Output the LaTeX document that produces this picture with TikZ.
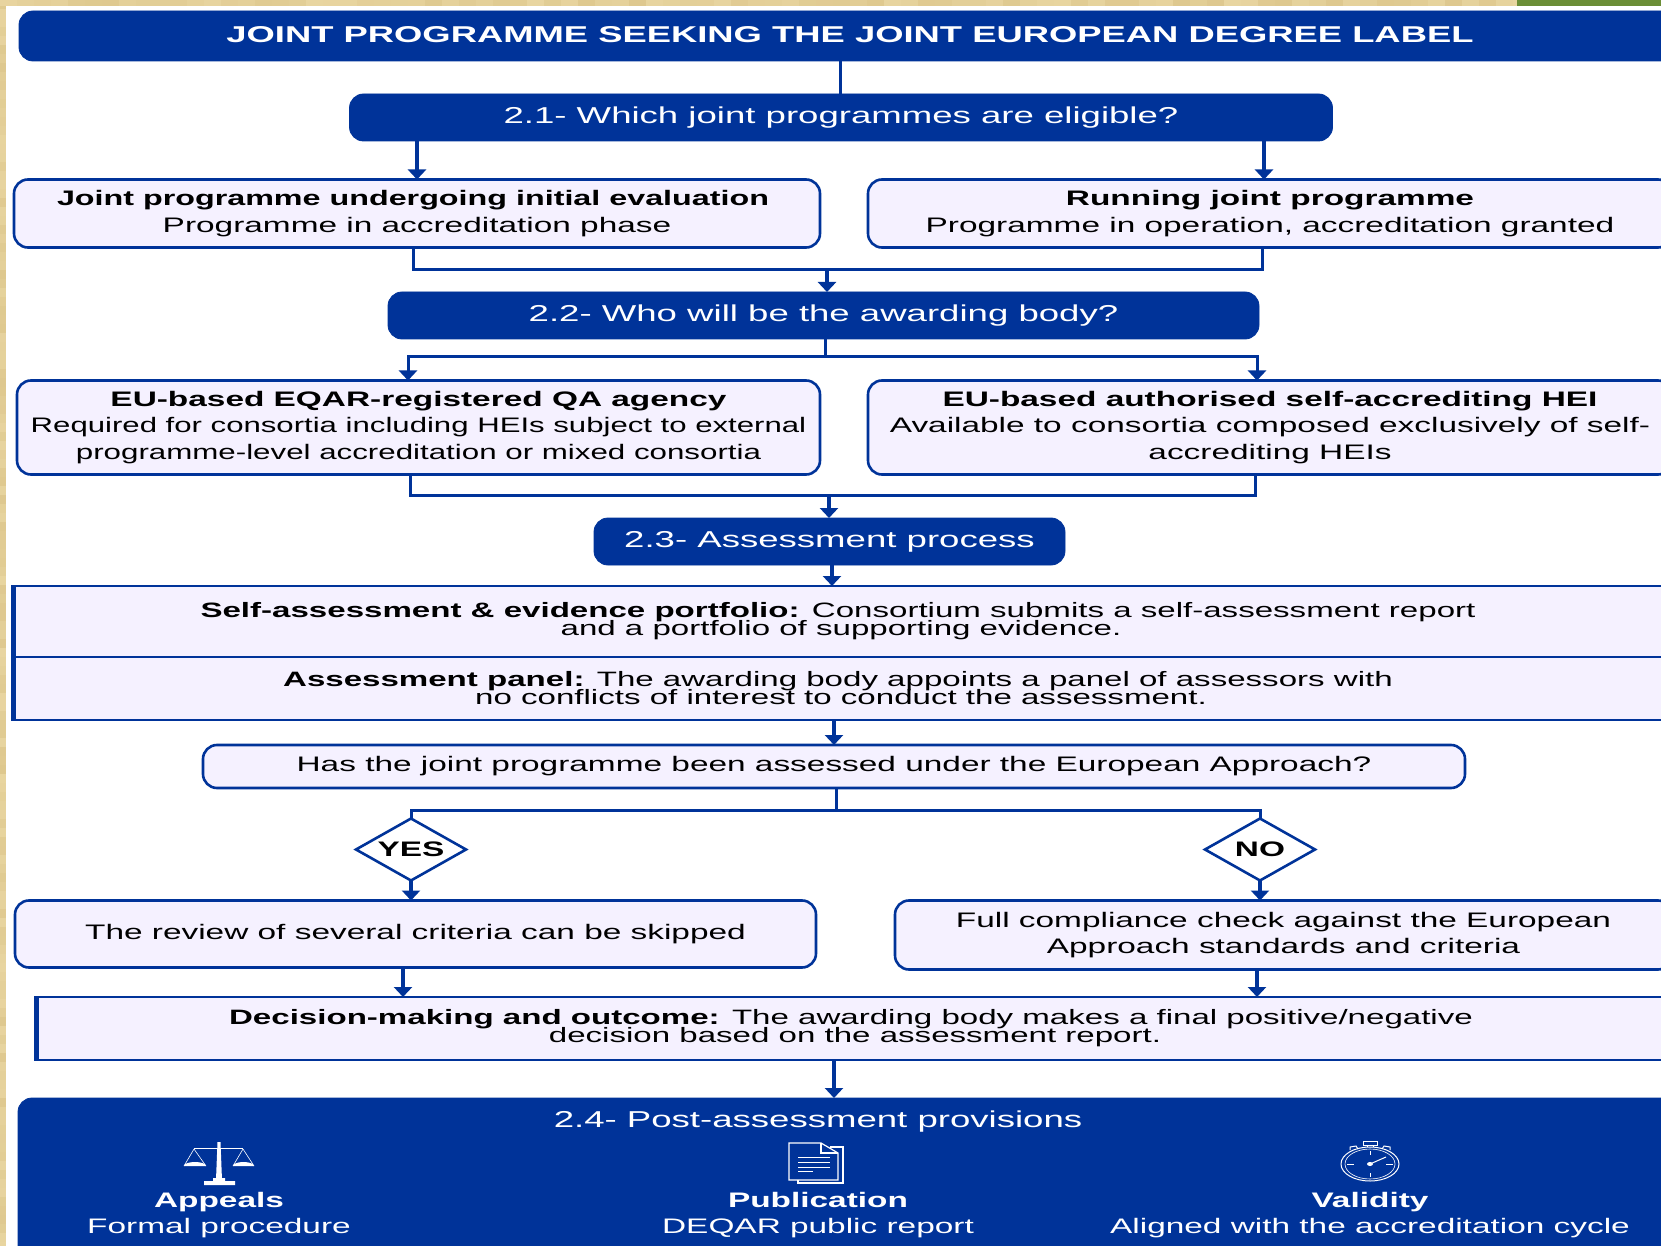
\documentclass[tikz,border=0pt]{standalone}
\usepackage{fontspec}
\setmainfont[FakeStretch=1.59]{Liberation Sans}
\usetikzlibrary{arrows.meta, shapes.geometric}
\definecolor{navy}{HTML}{003399}
\definecolor{pale}{HTML}{F5F1FF}
\definecolor{parch}{HTML}{E8D5A0}
\definecolor{parchdark}{HTML}{DEC88E}
\definecolor{leaf}{HTML}{6B8E36}
\tikzset{
    bluebar/.style={fill=navy, draw=navy, rounded corners=7pt, text=white, outer sep=0pt, inner sep=0pt, font=\fontsize{11.5}{14}\selectfont},
    palebox/.style={fill=pale, draw=navy, line width=1.3pt, rounded corners=7pt, outer sep=0pt, inner sep=0pt, align=center, font=\fontsize{10.5}{13.2}\selectfont},
    stepbox/.style={fill=pale, draw=navy, line width=1.4pt, outer sep=0pt, inner sep=0pt, align=center, font={\fontsize{10.4}{9}\selectfont\lineskiplimit=-20pt\relax}},
    choice/.style={diamond, aspect=1.77, fill=white, draw=navy, line width=1.3pt, outer sep=0pt, inner sep=0pt, font=\fontsize{10.5}{13.2}\bfseries},
    link/.style={draw=navy, line width=1.5pt},
    arrow/.style={draw=navy, line width=1.8pt, -{Triangle[width=9pt, length=5pt]}},
    edge/.style={draw=navy, line width=2.5pt},
    label/.style={text=white, inner sep=0pt, align=center, font=\fontsize{10.5}{13.2}\selectfont},
    icon/.style={draw=white, line width=0.3pt}
}

\begin{document}
\begin{tikzpicture}[x=0.5pt, y=-0.5pt]
    \useasboundingbox (0,0) rectangle (1661,1246);
    \clip (0,0) rectangle (1661,1246);
    \pgfmathsetseed{7}
    \fill [parch] (0,0) rectangle (1661,1246);
    \foreach \y in {0,9,...,1240} {
        \pgfmathsetmacro{\tint}{100*rnd}
        \fill [parchdark!\tint!parch] (0,\y) rectangle (6,\y+9);
    }
    \foreach \x in {0,17,...,1510} {
        \pgfmathsetmacro{\tint}{100*rnd}
        \fill [parchdark!\tint!parch] (\x,0) rectangle (\x+17,6);
    }
    \fill [leaf] (1517,0) rectangle (1661,6);
    \fill [white] (6,6) rectangle (1661,1246);

    % headers
    \node [bluebar, minimum width=831pt, minimum height=25pt, font=\fontsize{11.44}{14}\bfseries] (top) at (850,36) {\raisebox{1pt}{JOINT PROGRAMME SEEKING THE JOINT EUROPEAN DEGREE LABEL}};
    \node [bluebar, minimum width=491.5pt, minimum height=23.5pt] (elig) at (841,117.5) {2.1- Which joint programmes are eligible?};
    \node [bluebar, minimum width=435.5pt, minimum height=23.5pt] (body) at (823.5,315.5) {2.2- Who will be the awarding body?};
    \node [bluebar, minimum width=235.5pt, minimum height=23.5pt] (proc) at (829.5,541.5) {2.3- Assessment process};

    % first choice
    \node [palebox, minimum width=403pt, minimum height=34pt] (initial) at (417,213.5) {\textbf{\addfontfeatures{FakeStretch=1.537}Joint programme undergoing initial evaluation}\hspace*{4pt}\\Programme in accreditation phase};
    \node [palebox, minimum width=402pt, minimum height=34pt] (running) at (1270,213.5) {\textbf{Running joint programme}\\Programme in operation, accreditation granted};

    % second choice
    \node [palebox, minimum width=401.5pt, minimum height=47pt] (agency) at (418.5,427.5) {\textbf{EU-based EQAR-registered QA agency}\\\addfontfeatures{FakeStretch=1.483}Required for consortia including HEIs subject to external\\\addfontfeatures{FakeStretch=1.49}programme-level accreditation or mixed consortia};
    \node [palebox, minimum width=402pt, minimum height=47pt] (self) at (1270,427.5) {\textbf{EU-based authorised self-accrediting HEI}\\Available to consortia composed exclusively of self-\\accrediting HEIs};

    % assessment
    \node [stepbox, minimum width=826pt, minimum height=35.5pt] (port) at (838,621.5) {\textbf{Self-assessment \& evidence portfolio:} Consortium submits a self-assessment report\\\hspace*{3pt}and a portfolio of supporting evidence.};
    \node [stepbox, minimum width=826pt, minimum height=31.5pt] (panel) at (838,688.5) {\textbf{Assessment panel:} The awarding body appoints a panel of assessors with\\\hspace*{3pt}no conflicts of interest to conduct the assessment.};
    \node [palebox, minimum width=631pt, minimum height=21.5pt] (appr) at (834,766.5) {Has the joint programme been assessed under the European Approach?};
    \node [choice, minimum width=55pt, minimum height=31pt] (yes) at (411,849.5) {YES};
    \node [choice, minimum width=55pt, minimum height=31pt] (no) at (1260,849.5) {NO};
    \node [palebox, minimum width=400.5pt, minimum height=33.5pt] (skip) at (415.5,934) {The review of several criteria can be skipped};
    \node [palebox, minimum width=388.5pt, minimum height=34.5pt] (full) at (1283.5,935) {Full compliance check against the European\\Approach standards and criteria};
    \node [stepbox, minimum width=820pt, minimum height=31.5pt] (dec) at (855,1028.5) {\textbf{Decision-making and outcome:} The awarding body makes a final positive/negative\hspace*{4pt}\\decision based on the assessment report.};

    % provisions
    \node [bluebar, anchor=north west, minimum width=840pt, minimum height=90pt] (post) at (18,1098) {};
    \node [label, font=\fontsize{11.5}{14}\selectfont] (ptitle) at (818,1122) {2.4- Post-assessment provisions};
    \node [label] (appeals) at (219,1215) {\textbf{Appeals}\\Formal procedure};
    \node [label] (pub) at (818,1215) {\textbf{Publication}\\DEQAR public report};
    \node [label] (valid) at (1370,1215) {\textbf{Validity}\\Aligned with the accreditation cycle};

    % junctions
    \coordinate (a) at (840,0);
    \coordinate (b) at (417,0);
    \coordinate (c) at (1264,0);
    \coordinate (d) at (827,270);
    \coordinate (e) at (825,357);
    \coordinate (f) at (829,495);
    \coordinate (g) at (836,810);
    \coordinate (h) at (403,0);
    \coordinate (i) at (1257,0);
    \coordinate (j) at (834,0);
    \coordinate (k) at (13.5,0);
    \coordinate (l) at (36,0);

    \draw [edge] (k |- port.north) -- (k |- panel.south);
    \draw [edge] (l |- dec.north) -- (l |- dec.south);
    \draw [link] (a |- top.south) -- (a |- elig.north);
    \draw [arrow] (b |- elig.south) -- (b |- initial.north);
    \draw [arrow] (c |- elig.south) -- (c |- running.north);
    \draw [link] (413,0 |- initial.south) |- (d) -| (1262,0 |- running.south);
    \draw [arrow] (d) -- (d |- body.north);
    \draw [link] (e |- body.south) -- (e);
    \draw [link] (408,373) |- (e) -| (i |- 0,373);
    \draw [arrow] (408,372) -- (408,0 |- agency.north);
    \draw [arrow] (i |- 0,372) -- (i |- self.north);
    \draw [link] (410,0 |- agency.south) |- (f) -| (1255,0 |- self.south);
    \draw [arrow] (f) -- (f |- proc.north);
    \draw [arrow] (832,0 |- proc.south) -- (832,0 |- port.north);
    \draw [arrow] (j |- panel.south) -- (j |- appr.north);
    \draw [link] (g |- appr.south) -- (g);
    \draw [link] (yes.north) |- (g) -| (no.north);
    \draw [arrow] (yes.south) -- (yes.south |- skip.north);
    \draw [arrow] (no.south) -- (no.south |- full.north);
    \draw [arrow] (h |- skip.south) -- (h |- dec.north);
    \draw [arrow] (i |- full.south) -- (i |- dec.north);
    \draw [arrow] (j |- dec.south) -- (j |- post.north);

    % scales
    \draw [icon, line width=0.5pt] (194,1148) -- (243,1148);
    \fill [white] (217.5,1142) -- (220.5,1142) -- (222,1180) -- (216,1180) -- cycle;
    \fill [white] (213,1178) rectangle (225,1181) (204,1181) rectangle (235,1185);
    \draw [icon] (194,1149) -- (184,1166) (194,1149) -- (206,1166) (243,1149) -- (233,1166) (243,1149) -- (254,1166);
    \fill [white] (184,1166) arc [start angle=180, end angle=360, x radius=11, y radius=4] -- cycle;
    \fill [white] (233,1166) arc [start angle=180, end angle=360, x radius=10.5, y radius=4] -- cycle;

    % document
    \draw [icon, line width=0.6pt] (789,1143) -- (821,1143) -- (838,1153) -- (838,1180) -- (789,1180) -- cycle;
    \draw [icon, line width=0.6pt] (821,1143) -- (821,1153) -- (838,1153);
    \draw [icon, line width=0.6pt] (830,1147) -- (843,1147) -- (843,1183) -- (798,1183) -- (798,1180);
    \foreach \y in {1157,1162,1167} \draw [icon, line width=0.5pt] (798,\y) -- (830,\y);
    \draw [icon, line width=0.5pt] (798,1171) -- (813,1171);

    % stopwatch
    \draw [icon, line width=0.5pt] (1370,1164) ellipse [x radius=29, y radius=17];
    \draw [icon] (1370,1164) ellipse [x radius=25, y radius=15];
    \draw [icon] (1370,1151) -- (1370,1155) (1370,1173) -- (1370,1177) (1347,1164) -- (1354,1164) (1386,1164) -- (1393,1164);
    \fill [white] (1370,1164) ellipse [x radius=3, y radius=2];
    \draw [icon, line width=0.5pt] (1370,1164) -- (1386,1157);
    \draw [icon, line width=0.5pt] (1363,1141) rectangle (1377,1145);
    \draw [icon] (1367,1145) -- (1367,1147) (1373,1145) -- (1373,1147);
    \draw [icon, line width=0.5pt] (1350,1150) -- (1350,1147) -- (1356,1146) -- (1358,1149);
    \draw [icon, line width=0.5pt] (1390,1150) -- (1390,1147) -- (1384,1146) -- (1382,1149);
\end{tikzpicture}
\end{document}
